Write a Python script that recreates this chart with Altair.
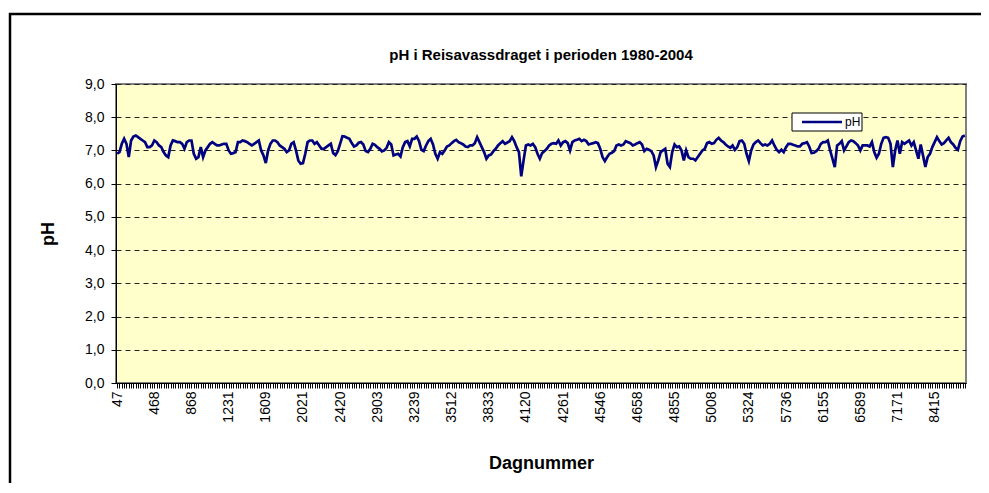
import altair as alt
import pandas as pd

chart_title = ['pH i Reisavassdraget i perioden 1980-2004']
tick_labels = ['47', '468', '868', '1231', '1609', '2021', '2420', '2903', '3239', '3512',
               '3833', '4120', '4261', '4546', '4658', '4855', '5008', '5324', '5736', '6155',
               '6589', '7171', '8415']
label_step = 16
series_name = ['pH']

ph_part1 = [6.9, 6.95, 7.2, 7.35, 7.2, 6.8, 7.3, 7.42, 7.45, 7.4,
            7.35, 7.3, 7.25, 7.1, 7.1, 7.15, 7.3, 7.25, 7.15, 7.1,
            6.95, 6.85, 6.8, 7.15, 7.3, 7.28, 7.25, 7.25, 7.2, 7.05,
            7.25, 7.3, 7.3, 6.9, 6.75, 6.8, 7.1, 6.8, 7.0, 7.1,
            7.2, 7.25, 7.2, 7.15, 7.15, 7.18, 7.2, 7.2, 7.0, 6.9,
            6.92, 6.95, 7.25, 7.25, 7.3, 7.28, 7.25, 7.2, 7.15, 7.2,
            7.25, 7.3, 7.0, 6.85, 6.62, 7.0, 7.2, 7.3, 7.3, 7.25,
            7.15, 7.1, 7.05, 6.95, 7.0, 7.2, 7.25, 7.0, 6.7, 6.6,
            6.62, 6.9, 7.25, 7.3, 7.3, 7.2, 7.25, 7.15, 7.05, 7.05,
            7.1, 7.15, 7.2]
ph_part2 = [6.92, 6.86, 6.98, 7.2, 7.43, 7.42, 7.38, 7.35, 7.22, 7.12,
            7.15, 7.23, 7.25, 7.18, 6.98, 6.95, 7.05, 7.2, 7.17, 7.1,
            7.05, 6.97, 7.0, 7.08, 7.25, 7.18, 6.85, 6.88, 6.9, 6.82,
            7.1, 7.25, 7.28, 7.12, 7.35, 7.35, 7.42, 7.28, 7.02, 6.98,
            7.15, 7.28, 7.35, 7.18, 6.9, 6.75, 6.95, 6.9, 7.0, 7.12,
            7.15, 7.22, 7.28, 7.32, 7.25, 7.22, 7.18, 7.12, 7.1, 7.15,
            7.15, 7.22, 7.4, 7.25, 7.1, 6.95, 6.75, 6.85, 6.88, 6.98,
            7.05, 7.15, 7.22, 7.28, 7.2, 7.24, 7.28, 7.4, 7.28, 7.1,
            6.95, 6.22, 6.7, 7.15, 7.18, 7.15, 7.2, 7.1, 6.9, 6.75]
ph_part3 = [6.92, 6.98, 7.05, 7.15, 7.2, 7.22, 7.2, 7.3, 7.15, 7.25,
            7.28, 7.22, 7.0, 7.25, 7.3, 7.32, 7.35, 7.28, 7.32, 7.28,
            7.18, 7.2, 7.22, 7.25, 7.22, 7.05, 6.8, 6.68, 6.8, 6.9,
            6.93, 6.98, 7.15, 7.18, 7.15, 7.18, 7.28, 7.25, 7.22, 7.15,
            7.18, 7.22, 7.25, 7.18, 6.98, 7.05, 7.02, 6.98, 6.85, 6.5,
            6.7, 6.95, 7.0, 7.05, 6.6, 6.5, 6.95, 7.18, 7.1, 7.12,
            7.0, 6.7, 7.0, 6.8, 6.75, 6.75, 6.7, 6.8, 6.9, 7.0,
            7.05, 7.22, 7.25, 7.2, 7.22, 7.32, 7.38, 7.3, 7.25, 7.18,
            7.12, 7.08, 7.15, 7.02, 7.1, 7.28, 7.3, 7.2, 6.9, 6.68]
ph_part4 = [7.0, 7.18, 7.25, 7.3, 7.22, 7.15, 7.18, 7.15, 7.2, 7.3,
            7.15, 7.02, 6.95, 7.02, 6.95, 7.1, 7.2, 7.2, 7.17, 7.15,
            7.12, 7.12, 7.2, 7.22, 7.25, 7.12, 6.92, 6.93, 6.98, 7.05,
            7.2, 7.25, 7.25, 7.3, 7.0, 6.75, 6.5, 7.15, 7.2, 7.28,
            7.0, 7.12, 7.25, 7.3, 7.28, 7.22, 7.15, 7.0, 7.15, 7.15,
            7.15, 7.12, 7.25, 6.95, 6.78, 6.9, 7.2, 7.38, 7.4, 7.38,
            7.2, 6.5, 7.0, 7.3, 6.9, 7.25, 7.2, 7.25, 7.3, 7.15,
            7.25, 7.0, 6.75, 7.18, 6.85, 6.5, 6.8, 6.9, 7.1, 7.25,
            7.4, 7.28, 7.18, 7.22, 7.3, 7.38, 7.25, 7.18, 7.08, 7.02,
            7.28, 7.42, 7.45]

ph = ph_part1 + ph_part2 + ph_part3 + ph_part4
df = pd.DataFrame({'i': list(range(len(ph))), 'pH': ph})

FONT = 'Liberation Sans'
LINE_COLOR = '#000080'
LINE_W = 2.7
W, H = 850, 299
labels_js = '[' + ','.join("'" + t + "'" for t in tick_labels) + ']'
x_label_expr = f"datum.value % {label_step} == 0 ? {labels_js}[datum.value / {label_step}] : ''"

line = alt.Chart(df).mark_line(strokeWidth=LINE_W, color=LINE_COLOR).encode(
    x=alt.X('i:O',
            axis=alt.Axis(title='Dagnummer', labelExpr=x_label_expr, labelAngle=-90,
                          labelOverlap=False, labelFontSize=14, labelFont=FONT, labelColor='black',
                          labelPadding=3, tickSize=5, tickColor='black', domainColor='black',
                          titleFontSize=18, titleFont=FONT, titleFontWeight='bold',
                          titleColor='black', titlePadding=32)),
    y=alt.Y('pH:Q', scale=alt.Scale(domain=[0, 9]),
            axis=alt.Axis(title='pH', values=list(range(10)), format='.1f',
                          labelExpr="replace(datum.label, '.', ',')",
                          labelFontSize=14, labelFont=FONT, labelColor='black', labelPadding=7,
                          tickSize=5, tickColor='black', domainColor='black',
                          grid=True, gridColor='#222222', gridDash=[5, 4], gridWidth=1,
                          titleFontSize=18, titleFont=FONT, titleFontWeight='bold',
                          titleColor='black', titlePadding=27))
)

frame = alt.Chart(pd.DataFrame({'a': [0]})).mark_rect(
    filled=False, stroke='black', strokeWidth=2.5
).encode(x=alt.value(-106), x2=alt.value(W + 40), y=alt.value(-70), y2=alt.value(H + 150))

title_text = alt.Chart(pd.DataFrame({'t': chart_title})).mark_text(
    align='center', baseline='middle', fontSize=15, font=FONT, fontWeight='bold', color='black'
).encode(text='t:N', x=alt.value(W / 2), y=alt.value(-29))

leg_df = pd.DataFrame({'serie': series_name})
leg_box = alt.Chart(leg_df).mark_rect(fill='white', stroke='black', strokeWidth=1).encode(
    x=alt.value(676), x2=alt.value(746), y=alt.value(29), y2=alt.value(47))
leg_line = alt.Chart(leg_df).mark_rule(color=LINE_COLOR, strokeWidth=LINE_W).encode(
    x=alt.value(686), x2=alt.value(726), y=alt.value(38))
leg_text = alt.Chart(leg_df).mark_text(align='left', baseline='middle', fontSize=12, font=FONT,
                                       color='black').encode(
    text='serie:N', x=alt.value(729), y=alt.value(38))

chart = alt.layer(frame, title_text, line, leg_box, leg_line, leg_text).properties(
    width=W, height=H,
    autosize=alt.AutoSizeParams(type='none'),
    padding={'left': 108, 'top': 76, 'right': 15, 'bottom': 100},
    background='white'
).configure_view(fill='#FFFFCC', stroke='#808080', strokeWidth=2)

chart.save('out.html', embed_options={'renderer': 'svg', 'actions': False})
